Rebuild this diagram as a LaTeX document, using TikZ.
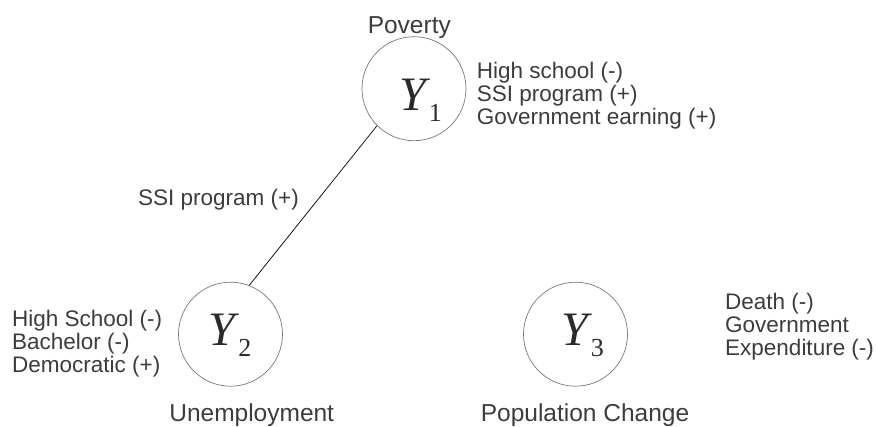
\documentclass[tikz,border=0pt]{standalone}
\usepackage{fontspec}
\setmainfont{Liberation Sans}
\newfontfamily\varfont{Liberation Serif}
\usetikzlibrary{positioning}
\definecolor{textGray}{RGB}{60,60,60}
\definecolor{ringGray}{RGB}{120,120,120}

% outcome variable Y with its index
\newcommand{\outvar}[1]{{\varfont\fontsize{48}{48}\selectfont\itshape Y}\kern3pt\raisebox{-11pt}{\varfont\fontsize{26}{26}\selectfont #1}}

\begin{document}
\begin{tikzpicture}[x=1pt, y=-1pt,
        state/.style={circle, draw=ringGray, line width=0.7pt, minimum size=104pt, inner sep=0pt},
        var/.style={anchor=base west, inner sep=0pt, text=textGray!70!black},
        title/.style={anchor=base, inner sep=0pt, text=textGray, font=\fontsize{24.5}{24.5}\selectfont},
        factors/.style={anchor=base west, inner sep=0pt, align=left, text=textGray, font=\fontsize{22.5}{22.8}\selectfont},
        link/.style={black, line width=0.7pt}
    ]
    \useasboundingbox (0,0) rectangle (876,426);

    % the three outcomes
    \node[state] (y1) at (414,88.7) {};
    \node[state] (y2) at (230.5,334.2) {};
    \node[state] (y3) at (575.5,334.2) {};

    \node[var] (y1var) at (399,110) {\outvar{1}};
    \node[var] (y2var) at (208.5,345.7) {\outvar{2}};
    \node[var] (y3var) at (561,345.7) {\outvar{3}};

    \node[title] (poverty) at (409.3,33.3) {Poverty};
    \node[title] (unemp) at (251.7,421) {Unemployment};
    \node[title] (popchange) at (585,421.5) {Population Change};

    % covariates next to each outcome (base = last line)
    \node[factors] (y1cov) at (476.7,124) {High school (-)\\SSI program (+)\\Government earning (+)};
    \node[factors] (y2cov) at (12,372) {High School (-)\\Bachelor (-)\\Democratic (+)};
    \node[factors] (y3cov) at (725,355) {Death (-)\\Government\\Expenditure (-)};

    % shared covariate
    \draw[link] (y1.225) -- (y2.69);
    \node[factors] (shared) at (138,205) {SSI program (+)};
\end{tikzpicture}
\end{document}
